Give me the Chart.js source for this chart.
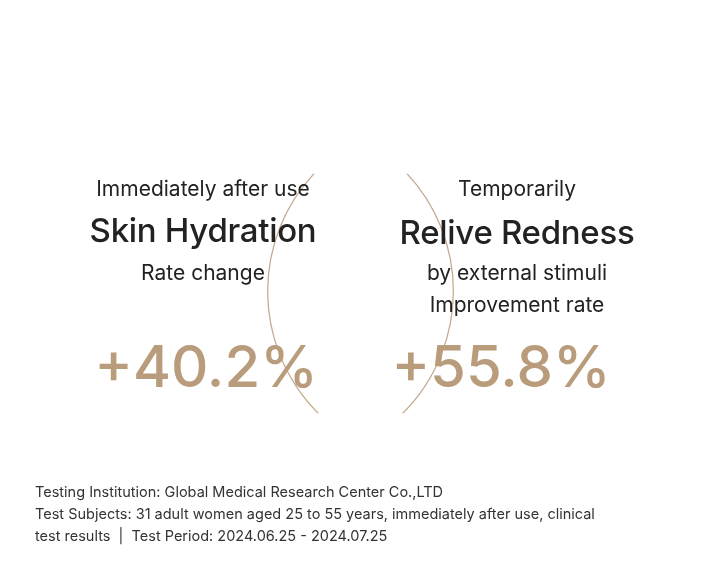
<!DOCTYPE html>
<html><head><meta charset="utf-8">
<script src="https://cdn.jsdelivr.net/npm/chart.js@4"></script>
<style>
html,body{margin:0;padding:0;background:#fff;width:720px;height:587px;overflow:hidden;font-family:Inter,"Noto Sans",sans-serif;}
#wrap{position:relative;width:720px;height:587px;}
canvas{position:absolute;left:0;top:0;}
.t{position:absolute;transform:translate(-50%,-50%);white-space:nowrap;color:#222;text-align:center;}
.s{font-size:21px;}
.b{font-size:33px;font-weight:500;letter-spacing:-0.3px;}
.n{font-size:58px;font-weight:500;color:#b99c7b;}
.foot{position:absolute;left:35px;top:481px;font-size:14.5px;line-height:22px;color:#333;}
</style></head><body>
<div id="wrap"><canvas id="c" width="720" height="587"></canvas>
<div class="t s" style="left:203px;top:188px">Immediately after use</div>
<div class="t b" style="left:203px;top:230px">Skin Hydration</div>
<div class="t s" style="left:203px;top:272px">Rate change</div>
<div class="t n" id="v0" style="left:206px;top:366px"></div>
<div class="t s" style="left:517px;top:188px">Temporarily</div>
<div class="t b" style="left:517px;top:232px">Relive Redness</div>
<div class="t s" style="left:517px;top:272px">by external stimuli</div>
<div class="t s" style="left:517px;top:304px">Improvement rate</div>
<div class="t n" id="v1" style="left:501px;top:366px"></div>
<div class="foot">Testing Institution: Global Medical Research Center Co.,LTD<br>Test Subjects: 31 adult women aged 25 to 55 years, immediately after use, clinical<br>test results &nbsp;|&nbsp; Test Period: 2024.06.25 - 2024.07.25</div>
</div>
<script>
const circleX = [207, 515];
const circleY = [288, 288];
const values = ["+40.2%", "+55.8%"];
values.forEach((v,i)=>document.getElementById('v'+i).textContent=v);
new Chart(document.getElementById('c'), {
  type: 'scatter',
  data: { datasets: [{ data: circleX.map((x,i)=>({x, y: circleY[i]})),
    pointRadius: 172.5, pointHoverRadius: 172.5, borderColor: '#c6ad90', borderWidth: 1.3, backgroundColor: 'rgba(0,0,0,0)' }] },
  options: { responsive:false, animation:false, events:[],
    layout:{padding:0},
    plugins:{legend:{display:false}, tooltip:{enabled:false}},
    scales:{ x:{type:'linear',min:0,max:720,display:false},
             y:{type:'linear',min:0,max:587,reverse:true,display:false} } }
});
</script>
</body></html>
